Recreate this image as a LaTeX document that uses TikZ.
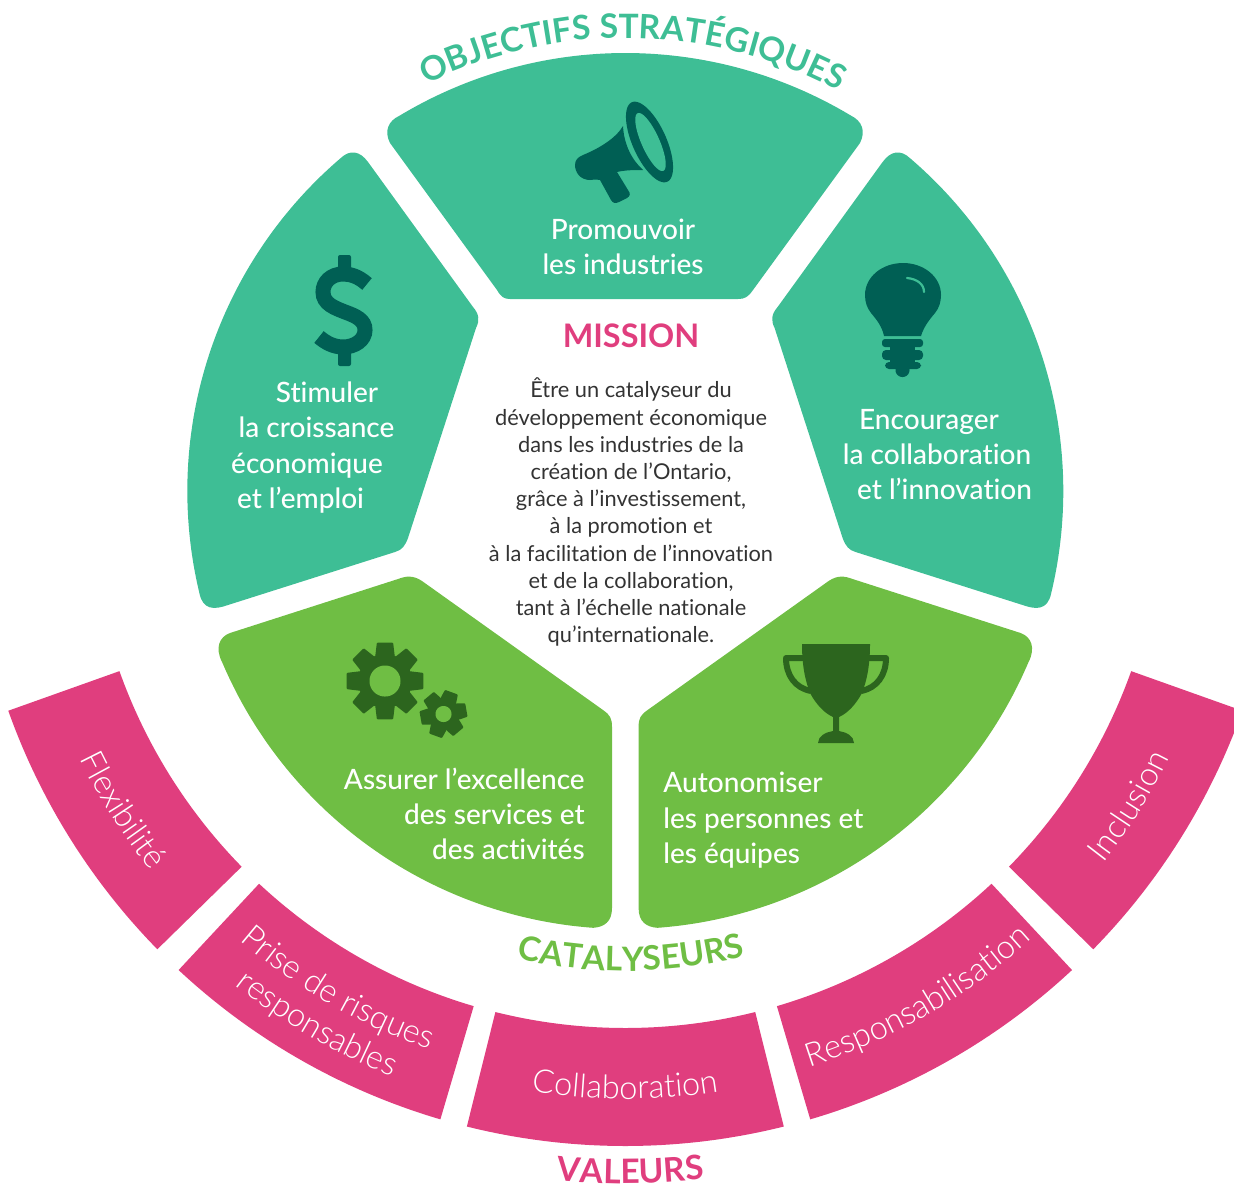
\documentclass[tikz,border=0pt]{standalone}
\usepackage{fontspec}
\usetikzlibrary{decorations.text}
\setmainfont{Lato}[Ligatures=NoCommon]
\newfontfamily\labf{Lato Medium}[Ligatures=NoCommon]
\newfontfamily\thinf{Lato Light}[Ligatures=NoCommon]
\definecolor{teal1}{HTML}{3EBE95}
\definecolor{teal2}{HTML}{005F54}
\definecolor{green1}{HTML}{6FBE44}
\definecolor{green2}{HTML}{2C651E}
\definecolor{pink1}{HTML}{E03E7E}
\definecolor{ink}{HTML}{333333}
\newcommand{\arcpl}[3]{plot[domain=#2:#3,samples=90] ({625.3+#1*cos(\x)},{491-#1*sin(\x)})}
\newcommand{\arcto}[3]{-- plot[domain=#2:#3,samples=90] ({625.3+#1*cos(\x)},{491-#1*sin(\x)})}
\newcommand{\hfont}{\fontsize{16.8}{16.8}\selectfont\bfseries}
\newcommand{\pfont}{\fontsize{16.3}{16.3}\selectfont\thinf}
\newcommand{\curvetext}[6]{\path[decorate,decoration={text along path,text align=center,text color=#1,text={|#2|#3}}] \arcpl{#4}{#5}{#6};}
\newcommand{\pinkseg}[2]{\fill[pink1] \arcpl{537}{#1}{#2} \arcto{655}{#2}{#1} -- cycle;}
\newcommand{\tiltell}[6]{\fill[#6] plot[domain=0:360,samples=80] ({#1+#3*cos(\x)*cos(#5)-#4*sin(\x)*sin(#5)},{#2+#3*cos(\x)*sin(#5)+#4*sin(\x)*cos(#5)}) -- cycle;}
\newcommand{\gear}[8]{%
  \foreach \i in {1,...,#6}{%
    \pgfmathsetmacro{\a}{#7+\i*360/#6}
    \fill[green2,draw=green2,line width=1pt,line join=round]
      ({#1+#4*cos(\a+#8*1.7)},{#2-#4*sin(\a+#8*1.7)}) --
      ({#1+#3*cos(\a+#8)},{#2-#3*sin(\a+#8)}) --
      ({#1+#3*cos(\a-#8)},{#2-#3*sin(\a-#8)}) --
      ({#1+#4*cos(\a-#8*1.7)},{#2-#4*sin(\a-#8*1.7)}) -- cycle;}
  \tiltell{#1}{#2}{#4}{#4}{0}{green2}
  \tiltell{#1}{#2}{#5}{#5}{0}{green1}}
\tikzset{
  lab/.style={anchor=base,inner sep=0pt,text=white,font=\fontsize{14}{14}\selectfont\labf},
  labl/.style={lab,anchor=base west},
  labr/.style={lab,anchor=base east},
  miss/.style={anchor=base,inner sep=0pt,text=ink,font=\fontsize{10.9}{10.9}\selectfont},
  head/.style={anchor=base,inner sep=0pt,text=pink1,font=\fontsize{16.2}{16.2}\selectfont\bfseries}
}
\begin{document}
\begin{tikzpicture}[x=0.5pt,y=-0.5pt]
\useasboundingbox (0,0) rectangle (1234,1184);
% teal segments
\fill[teal1] \arcpl{438}{121}{59} .. controls (862,121) and (866,131) .. (860,143) -- (753,290) .. controls (748,297) and (745,299) .. (738,299) -- (510,299) .. controls (504,299) and (501,297) .. (497,290) -- (390,143) .. controls (384,131) and (388,121) .. (399.7,115.6) -- cycle;
\fill[teal1] \arcpl{438}{193.5}{130.6} .. controls (350,149) and (360,151) .. (368,162) -- (473,307) .. controls (479,314) and (480,320) .. (476,328) -- (408,538) .. controls (405,546) and (402,550) .. (395,552) -- (228,605) .. controls (214,610) and (203,610) .. (199.4,593.3) -- cycle;
\fill[teal1] \arcpl{438}{-13.5}{49.4} .. controls (900.5,149) and (890.6,151) .. (882.6,162) -- (777.6,307) .. controls (771.6,314) and (770.6,320) .. (774.6,328) -- (842.6,538) .. controls (845.6,546) and (848.6,550) .. (855.6,552) -- (1022.6,605) .. controls (1036.6,610) and (1047.6,610) .. (1051.2,593.3) -- cycle;
% green segments
\fill[green1] \arcpl{438}{203}{265.8} .. controls (604,927) and (612,922) .. (612,908) -- (612,727) .. controls (612,718) and (610,715) .. (603,710) -- (422,581) .. controls (413,575) and (406,576) .. (398,579) -- (230,633) .. controls (219,637) and (215,648) .. (222,662) -- cycle;
\fill[green1] \arcpl{438}{-23}{-85.8} .. controls (646.6,927) and (638.6,922) .. (638.6,908) -- (638.6,727) .. controls (638.6,718) and (640.6,715) .. (647.6,710) -- (828.6,581) .. controls (837.6,575) and (844.6,576) .. (852.6,579) -- (1020.6,633) .. controls (1031.6,637) and (1035.6,648) .. (1028.6,662) -- cycle;
% pink segments
\pinkseg{199.6}{224.4}
\pinkseg{227}{253.6}
\pinkseg{256}{284}
\pinkseg{286.4}{313}
\pinkseg{315.6}{340.4}
% headings on arcs
\curvetext{teal1}{\hfont}{OBJECTIFS STRATÉGIQUES}{453}{130}{48}
\curvetext{green1}{\hfont}{CATALYSEURS}{480}{245.7}{295.7}
\curvetext{pink1}{\hfont}{VALEURS}{692.5}{255.45}{285.45}
% pink labels
\curvetext{white}{\pfont}{Flexibilité}{608}{192}{232.8}
\curvetext{white}{\pfont}{Prise de risques}{592}{220}{260}
\curvetext{white}{\pfont}{responsables}{630}{220}{260}
\curvetext{white}{\pfont}{Collaboration}{608}{250}{290}
\curvetext{white}{\pfont}{Responsabilisation}{605}{275.5}{324.5}
\curvetext{white}{\pfont}{Inclusion}{606}{308}{348}
% labels
\node[lab] (p1) at (623,239.5) {Promouvoir};
\node[lab] (p2) at (623,274.5) {les industries};
\node[lab] (s1) at (327,402) {Stimuler};
\node[lab] (s2) at (316.5,437) {la croissance};
\node[lab] (s3) at (307,473) {économique};
\node[lab] (s4) at (300.5,508) {et l’emploi};
\node[lab] (e1) at (929,429) {Encourager};
\node[lab] (e2) at (937,464) {la collaboration};
\node[lab] (e3) at (944.5,499) {et l’innovation};
\node[labr] (a1) at (585,789) {Assurer l’excellence};
\node[labr] (a2) at (585,824.5) {des services et};
\node[labr] (a3) at (585,859.5) {des activités};
\node[labl] (b1) at (663,792) {Autonomiser};
\node[labl] (b2) at (663,828) {les personnes et};
\node[labl] (b3) at (663,863) {les équipes};
% mission
\node[head] (mh) at (631,347.5) {MISSION};
\node[miss] (m1) at (631,397) {Être un catalyseur du};
\node[miss] (m2) at (631,425) {développement économique};
\node[miss] (m3) at (631,452) {dans les industries de la};
\node[miss] (m4) at (631,479) {création de l’Ontario,};
\node[miss] (m5) at (631,506) {grâce à l’investissement,};
\node[miss] (m6) at (631,533) {à la promotion et};
\node[miss] (m7) at (631,561) {à la facilitation de l’innovation};
\node[miss] (m8) at (631,588) {et de la collaboration,};
\node[miss] (m9) at (631,615) {tant à l’échelle nationale};
\node[miss] (m10) at (631,642) {qu’internationale.};
% megaphone
\fill[teal2] (583,155) .. controls (600,148) and (616,138) .. (623,126) .. controls (624,145) and (632,160) .. (643,170) .. controls (635,170) and (625,170) .. (617,172) -- (628,190) .. controls (631,194) and (630,196) .. (627,198) -- (619,202) .. controls (615,204) and (613,203) .. (611,200) -- (600,180) .. controls (595,179) and (592,180) .. (590,180) .. controls (580,180) and (575,172) .. (575,165) .. controls (575,160) and (578,157) .. (583,155) -- cycle;
\tiltell{649.5}{142}{43.5}{17}{66}{teal2}
\tiltell{650.5}{142}{31.5}{9}{66}{teal1}
% dollar
\draw[teal2,line width=7.5pt] (367,284) .. controls (358,276) and (350,274) .. (343,274) .. controls (331,274) and (323,282) .. (323,292) .. controls (323,304) and (335,308) .. (345,312) .. controls (356,316) and (365,320) .. (365,330) .. controls (365,340) and (355,347) .. (343,347) .. controls (334,347) and (326,343) .. (319,337);
\fill[teal2,rounded corners=1pt] (338,255) rectangle (351,272);
\fill[teal2,rounded corners=1pt] (338,349) rectangle (351,366);
% bulb
\fill[teal2] (884,336) .. controls (882,326) and (876,319) .. (871,313) .. controls (867,308) and (865,302) .. (865,295) .. controls (865,277) and (882,263) .. (903,263) .. controls (924,263) and (941,277) .. (941,295) .. controls (941,302) and (939,308) .. (935,313) .. controls (930,319) and (924,326) .. (921,336) -- cycle;
\draw[teal1,line width=1.1pt,line cap=round] (907,278) .. controls (917,279) and (924,284) .. (924,292);
\fill[teal2,rounded corners=1.5pt] (882,339) rectangle (923,347);
\fill[teal2] (890,345) rectangle (915,366);
\fill[teal2,rounded corners=2pt] (882,350) rectangle (923,360);
\fill[teal2,rounded corners=2pt] (885,362) rectangle (921,369);
\tiltell{902.5}{370}{7}{7}{0}{teal2}
% gears
\gear{385}{681}{38}{27}{15.5}{8}{0}{11}
\gear{443.5}{714}{23}{16.5}{8}{6}{10}{15}
% trophy
\fill[green2] (802,644) -- (870,644) .. controls (870,665) and (867,680) .. (862,693) .. controls (856,704) and (848,713) .. (839,717) -- (839,731) .. controls (846,732) and (854,736) .. (854,743) -- (818,743) .. controls (818,736) and (826,732) .. (833,731) -- (833,717) .. controls (824,713) and (816,704) .. (810,693) .. controls (805,680) and (802,665) .. (802,644) -- cycle;
\draw[green2,line width=3pt,line join=round] (803,658) -- (786,658) .. controls (786,675) and (795,688) .. (811,691);
\draw[green2,line width=3pt,line join=round] (869,658) -- (886,658) .. controls (886,675) and (877,688) .. (861,691);
\end{tikzpicture}
\end{document}
